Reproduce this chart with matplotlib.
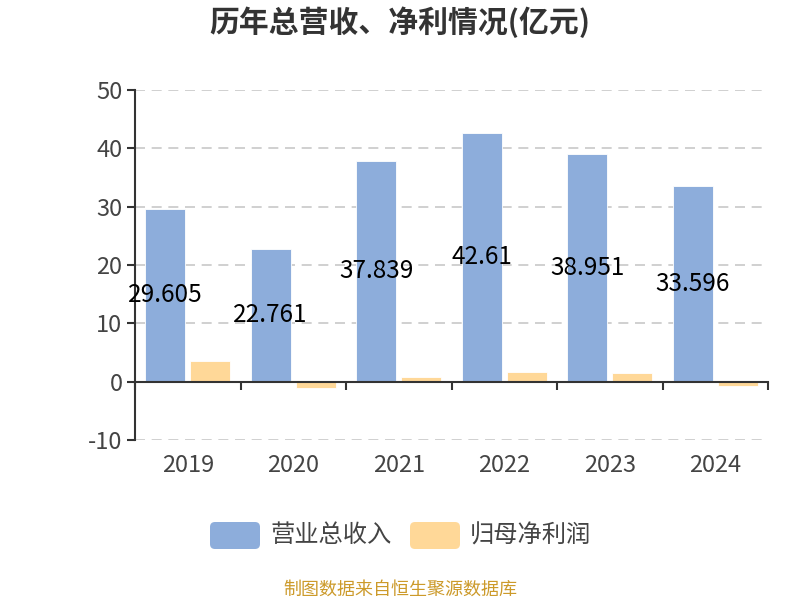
import matplotlib
matplotlib.use("Agg")
import matplotlib.pyplot as plt
from matplotlib.patches import FancyBboxPatch
import matplotlib.transforms as mtransforms

plt.rcParams['font.family'] = ['Noto Sans CJK SC', 'DejaVu Sans']

years = ['2019', '2020', '2021', '2022', '2023', '2024']
revenue = [29.605, 22.761, 37.839, 42.61, 38.951, 33.596]
net_profit = [3.5, -1.15, 0.85, 1.6, 1.4, -0.7]
revenue_labels = ['29.605', '22.761', '37.839', '42.61', '38.951', '33.596']
series_names = ['营业总收入', '归母净利润']
title = '历年总营收、净利情况(亿元)'
source = '制图数据来自恒生聚源数据库'
yticks = [-10, 0, 10, 20, 30, 40, 50]

blue = '#8DADDB'
orange = '#FFD898'
axis_color = '#333333'

fig = plt.figure(figsize=(8, 6), dpi=100)
ax = fig.add_axes([135/800, 160/600, (768-135)/800, 350/600])

x = list(range(len(years)))
w = 0.38
off = 0.215
ax.bar([i - off for i in x], revenue, width=w, color=blue, edgecolor='white', linewidth=0.6, zorder=3)
ax.bar([i + off for i in x], net_profit, width=w, color=orange, edgecolor='white', linewidth=0.6, zorder=3)

for i, v, lab in zip(x, revenue, revenue_labels):
    ax.text(i - off, v / 2, lab, ha='center', va='center',
            fontsize=17.5, color='black', zorder=5)

ax.set_xlim(-0.5, len(years) - 0.5)
ax.set_ylim(-10, 50)
ax.set_yticks(yticks)
ax.set_yticklabels([str(t) for t in yticks], fontsize=17, color='#444444')
for t in yticks:
    if t != 0:
        ax.axhline(t, color='#c8c8c8', linestyle=(0, (6, 4)), linewidth=1.2, zorder=1)

ax.spines['top'].set_visible(False)
ax.spines['right'].set_visible(False)
ax.spines['left'].set_color(axis_color)
ax.spines['left'].set_linewidth(1.5)
ax.spines['bottom'].set_position(('data', 0))
ax.spines['bottom'].set_color(axis_color)
ax.spines['bottom'].set_linewidth(1.5)
ax.spines['bottom'].set_zorder(4)

ax.set_xticks([i - 0.5 for i in range(len(years) + 1)])
ax.set_xticklabels([])
ax.tick_params(axis='x', direction='out', length=6, width=1.5, color=axis_color)
ax.tick_params(axis='y', direction='out', length=6, width=1.5, color=axis_color, pad=3)

trans = mtransforms.blended_transform_factory(ax.transData, ax.transAxes)
for i, yl in zip(x, years):
    ax.text(i, -26/350, yl, transform=trans, ha='center', va='center', fontsize=17, color='#444444')

fig.text(0.5, 1 - 22/600, title, ha='center', va='center', fontsize=21.5, fontweight='bold', color='#333333')

# legend and footer in pixel coordinates
ov = fig.add_axes([0, 0, 1, 1], zorder=10)
ov.set_xlim(0, 800)
ov.set_ylim(600, 0)
ov.axis('off')
for bx, col, name in [(210, blue, series_names[0]), (410, orange, series_names[1])]:
    ov.add_patch(FancyBboxPatch((bx, 522), 50, 27, boxstyle='round,pad=0,rounding_size=5',
                                facecolor=col, edgecolor='none'))
    ov.text(bx + 60, 535.5, name, ha='left', va='center', fontsize=17.5, color='#444444')

ov.text(400, 590, source, ha='center', va='center', fontsize=13, color='#CC9A2A')

fig.savefig('out.png', dpi=100)
